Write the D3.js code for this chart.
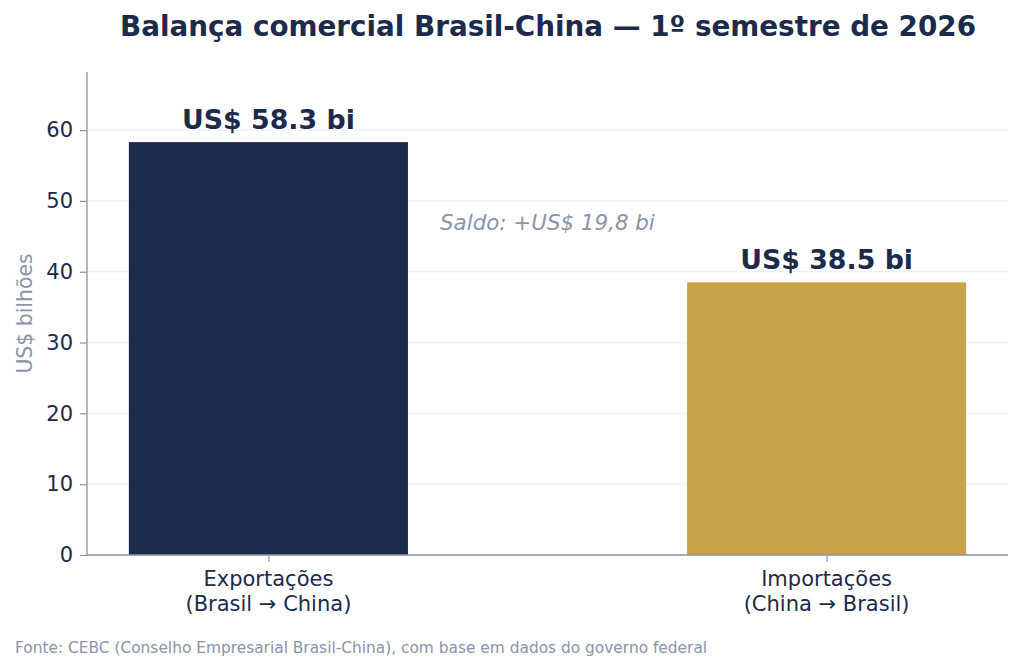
<!DOCTYPE html>
<html><head><meta charset="utf-8">
<script src="https://cdn.jsdelivr.net/npm/d3@7"></script>
<style>body{margin:0;background:#fff}svg{display:block}text{font-family:"DejaVu Sans",sans-serif}</style>
</head><body>
<svg id="c" width="1024" height="671"></svg>
<script>
const categories = ["Exportações\n(Brasil → China)", "Importações\n(China → Brasil)"];
const values = [58.3, 38.5];
const valueLabels = ["US$ 58.3 bi", "US$ 38.5 bi"];
const colors = ["#1c2a4b", "#c9a24c"];
const yTicks = [0, 10, 20, 30, 40, 50, 60];
const saldoLabel = "Saldo: +US$ 19,8 bi";
const title = "Balança comercial Brasil-China — 1º semestre de 2026";
const yLabel = "US$ bilhões";
const source = "Fonte: CEBC (Conselho Empresarial Brasil-China), com base em dados do governo federal";

const svg = d3.select("#c");
const L = 87, R = 1008, T = 72, B = 555;
const x = d3.scaleLinear().domain([-0.325, 1.325]).range([L, R]);
const y = d3.scaleLinear().domain([0, 68.2]).range([B, T]);
const bw = x(0.5) - x(0);
const ink = "#1c2a4b", grey = "#8a94a8", spine = "#8a90a6";

// grid
svg.append("g").selectAll("line").data(yTicks.filter(d => d > 0)).join("line")
  .attr("x1", L).attr("x2", R).attr("y1", d => y(d)).attr("y2", d => y(d))
  .attr("stroke", "#eef0f5").attr("stroke-width", 1.2);

// bars
svg.append("g").selectAll("rect").data(values).join("rect")
  .attr("x", (d, i) => x(i) - bw / 2).attr("width", bw)
  .attr("y", d => y(d)).attr("height", d => y(0) - y(d))
  .attr("fill", (d, i) => colors[i]);

// y axis
const ya = svg.append("g").attr("transform", `translate(${L},0)`)
  .call(d3.axisLeft(y).tickValues(yTicks).tickSize(7).tickPadding(7));
ya.select(".domain").attr("stroke", spine).attr("stroke-width", 1.3).attr("d", `M0,${B}V${T}`);
ya.selectAll(".tick line").attr("stroke", spine).attr("stroke-width", 1.2);
ya.selectAll(".tick text").attr("fill", ink).attr("font-size", 21).attr("font-family", "DejaVu Sans");

// x axis
const xa = svg.append("g").attr("transform", `translate(0,${B})`)
  .call(d3.axisBottom(x).tickValues([0, 1]).tickSize(7).tickFormat(""));
xa.select(".domain").attr("stroke", spine).attr("stroke-width", 1.3).attr("d", `M${L},0H${R}`);
xa.selectAll(".tick line").attr("stroke", spine).attr("stroke-width", 1.2);
categories.forEach((c, i) => {
  const t = svg.append("text").attr("x", x(i)).attr("y", B + 31).attr("text-anchor", "middle")
    .attr("fill", ink).attr("font-size", 21);
  c.split("\n").forEach((ln, j) => t.append("tspan").attr("x", x(i)).attr("dy", j ? 24.5 : 0).text(ln));
});

// value labels
svg.append("g").selectAll("text").data(values).join("text")
  .attr("x", (d, i) => x(i)).attr("y", d => y(d) - 13).attr("text-anchor", "middle")
  .attr("fill", ink).attr("font-size", 26.8).attr("font-weight", "bold")
  .text((d, i) => valueLabels[i]);

// saldo
svg.append("text").attr("x", 440).attr("y", 229.5).attr("fill", grey)
  .attr("font-size", 21.4).attr("font-style", "italic").text(saldoLabel);

// title
svg.append("text").attr("x", 548).attr("y", 36).attr("text-anchor", "middle")
  .attr("fill", ink).attr("font-size", 27.8).attr("font-weight", "bold").text(title);

// y label
svg.append("text").attr("transform", `translate(32,${(T + B) / 2 + 0}) rotate(-90)`)
  .attr("text-anchor", "middle").attr("fill", grey).attr("font-size", 20.4).text(yLabel);

// source
svg.append("text").attr("x", 15).attr("y", 653).attr("fill", grey).attr("font-size", 15.4).text(source);
</script>
</body></html>
